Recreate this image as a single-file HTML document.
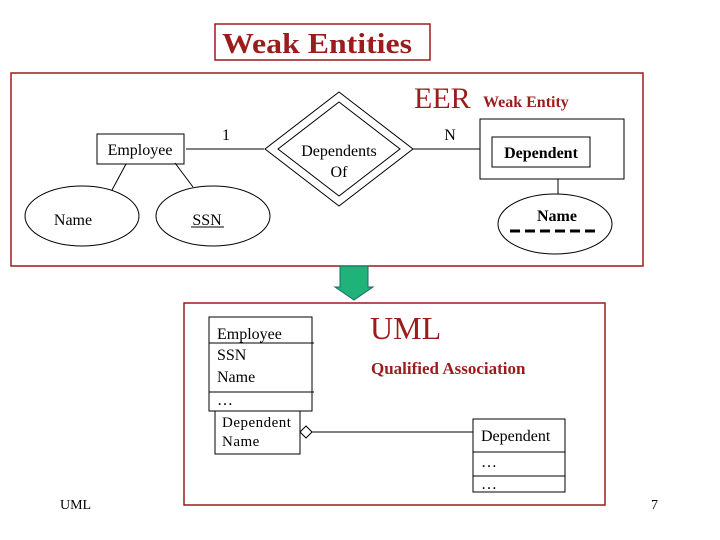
<!DOCTYPE html>
<html><head><style>body{margin:0;background:#fff}svg{display:block}</style></head><body>
<svg width="720" height="540" xmlns="http://www.w3.org/2000/svg" font-family="Liberation Serif, serif">
<rect x="215" y="24" width="215" height="36" fill="#fff" stroke="#9b1c1c" stroke-width="1.5"/>
<text x="222" y="53" font-size="28" font-weight="bold" fill="#9b1c1c" textLength="190" lengthAdjust="spacingAndGlyphs">Weak Entities</text>
<rect x="11" y="73" width="632" height="193" fill="#fff" stroke="#9b1c1c" stroke-width="1.5"/>
<text x="414" y="108" font-size="30" fill="#9b1c1c">EER</text>
<text x="483" y="107" font-size="16" font-weight="bold" fill="#9b1c1c">Weak Entity</text>
<g stroke="#000" fill="none" stroke-width="1">
<rect x="97" y="134" width="87" height="30"/>
<line x1="126" y1="164" x2="112" y2="190"/>
<line x1="175" y1="163" x2="193" y2="187"/>
<ellipse cx="82" cy="216" rx="57" ry="30"/>
<ellipse cx="213" cy="216" rx="57" ry="30"/>
<line x1="186" y1="149" x2="264" y2="149"/>
<polygon points="339,92 413,149 339,206 265,149"/>
<polygon points="339,102 400,149 339,196 278,149"/>
<line x1="413" y1="149" x2="480" y2="149"/>
<rect x="480" y="119" width="144" height="60"/>
<rect x="492" y="137" width="98" height="30"/>
<line x1="558" y1="179" x2="558" y2="194"/>
<ellipse cx="555" cy="224" rx="57" ry="30"/>
<line x1="510" y1="231" x2="596" y2="231" stroke-width="3" stroke-dasharray="10,5"/>
</g>
<text x="140" y="155" font-size="16" text-anchor="middle">Employee</text>
<text x="73" y="225" font-size="16" text-anchor="middle">Name</text>
<text x="207" y="225" font-size="16" text-anchor="middle">SSN</text>
<line x1="191" y1="227" x2="224" y2="227" stroke="#000"/>
<text x="226" y="140" font-size="16" text-anchor="middle">1</text>
<text x="339" y="156" font-size="16" text-anchor="middle">Dependents</text>
<text x="339" y="177" font-size="16" text-anchor="middle">Of</text>
<text x="450" y="140" font-size="16" text-anchor="middle">N</text>
<text x="541" y="158" font-size="16" font-weight="bold" text-anchor="middle">Dependent</text>
<text x="557" y="221" font-size="16" font-weight="bold" text-anchor="middle">Name</text>
<polygon points="340,266 368,266 368,287 373,287 354,300 335,287 340,287" fill="#1fb37a" stroke="#1a6b6b"/>
<rect x="184" y="303" width="421" height="202" fill="none" stroke="#9b1c1c" stroke-width="1.5"/>
<text x="370" y="339" font-size="32" fill="#9b1c1c">UML</text>
<text x="371" y="374" font-size="17" font-weight="bold" fill="#9b1c1c">Qualified Association</text>
<g stroke="#000" fill="none">
<rect x="209" y="317" width="103" height="94"/>
<line x1="209" y1="343" x2="314" y2="343"/>
<line x1="209" y1="392" x2="314" y2="392"/>
<rect x="215" y="411" width="85" height="43"/>
<polygon points="300,432 306,426 312,432 306,438" fill="#fff"/>
<line x1="312" y1="432" x2="473" y2="432"/>
<rect x="473" y="419" width="92" height="73"/>
<line x1="473" y1="452" x2="565" y2="452"/>
<line x1="473" y1="476" x2="565" y2="476"/>
</g>
<g font-size="16">
<text x="217" y="339">Employee</text>
<text x="217" y="360">SSN</text>
<text x="217" y="382">Name</text>
<text x="217" y="405">…</text>
<text x="222" y="427" font-size="15" letter-spacing="0.5">Dependent</text>
<text x="222" y="446" font-size="15" letter-spacing="0.5">Name</text>
<text x="481" y="441">Dependent</text>
<text x="481" y="467">…</text>
<text x="481" y="489">…</text>
<text x="60" y="509" font-size="14">UML</text>
<text x="651" y="509" font-size="14">7</text>
</g>
</svg>
</body></html>
